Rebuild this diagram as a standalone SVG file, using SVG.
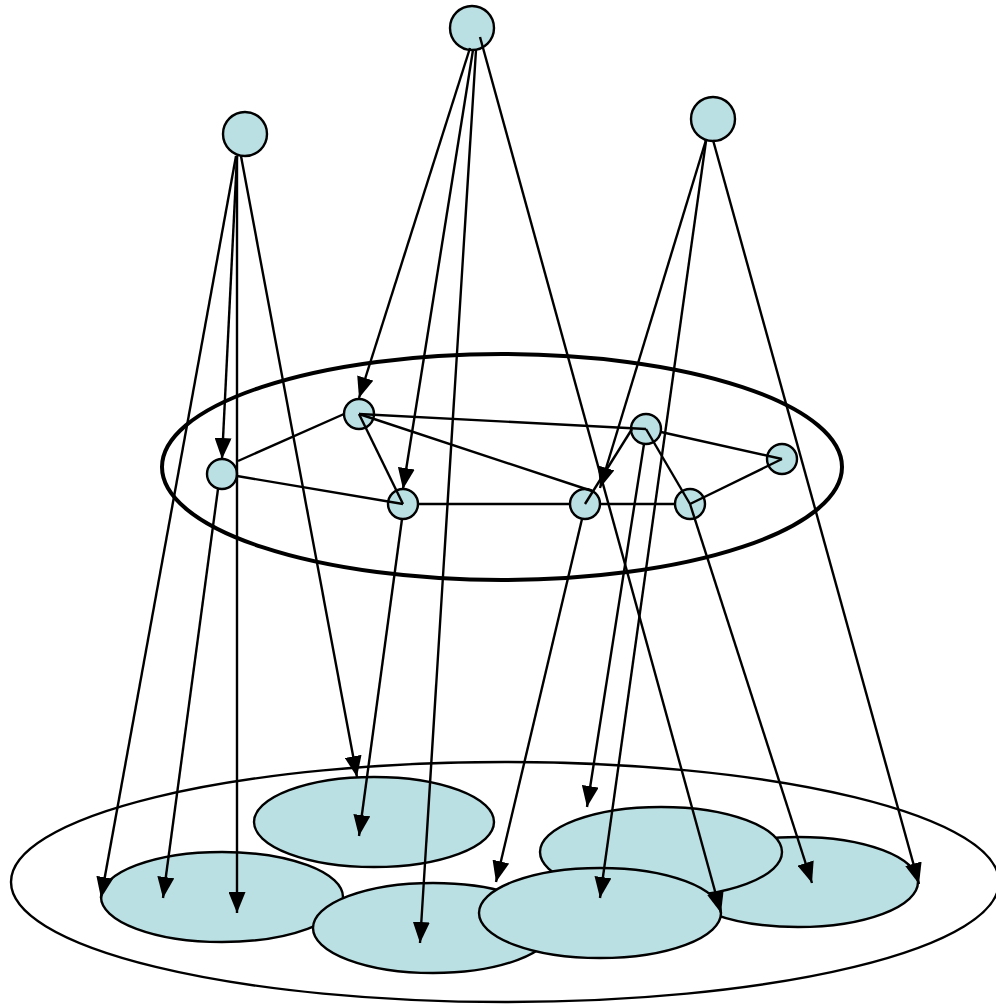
<svg xmlns="http://www.w3.org/2000/svg" width="996" height="1004" viewBox="0 0 996 1004">
<defs>
<style>
.n{fill:#bbe0e3;stroke:#000;stroke-width:2.4}
.e{stroke:#000;stroke-width:2.4;fill:none}
.a{stroke:#000;stroke-width:2.4;fill:none;marker-end:url(#ah)}
</style>
<marker id="ah" markerUnits="userSpaceOnUse" viewBox="0 0 21 17" markerWidth="21" markerHeight="17" refX="21" refY="8.5" orient="auto">
<path d="M0,0 L21,8.5 L0,17 z" fill="#000"/>
</marker>
</defs>
<rect width="996" height="1004" fill="#fff"/>
<g id="base">
<ellipse cx="505" cy="882" rx="494" ry="120" fill="#fff" stroke="#000" stroke-width="2.4"/>
</g>
<g id="E1"><ellipse class="n" cx="222" cy="897" rx="121" ry="45"/></g>
<g id="E2"><ellipse class="n" cx="374" cy="822" rx="120" ry="45"/></g>
<g id="E3"><ellipse class="n" cx="433" cy="928" rx="120" ry="45"/></g>
<g id="E5"><ellipse class="n" cx="798" cy="882" rx="120" ry="45"/></g>
<g id="E4"><ellipse class="n" cx="661" cy="852" rx="121" ry="45"/></g>
<g id="E6"><ellipse class="n" cx="600" cy="913" rx="121" ry="45"/></g>
<g id="ring"><ellipse cx="502" cy="467" rx="340" ry="113" fill="none" stroke="#000" stroke-width="4"/></g>
<g id="A"><circle class="n" cx="472" cy="28" r="22"/></g>
<g id="B"><circle class="n" cx="245" cy="134" r="22"/></g>
<g id="C"><circle class="n" cx="713" cy="119" r="22"/></g>
<g id="n359"><circle class="n" cx="359" cy="414" r="15"/></g>
<g id="n222"><circle class="n" cx="222" cy="474" r="15"/></g>
<g id="n403"><circle class="n" cx="403" cy="504" r="15"/></g>
<g id="n585"><circle class="n" cx="585" cy="504" r="15"/></g>
<g id="n646"><circle class="n" cx="646" cy="429" r="15"/></g>
<g id="n690"><circle class="n" cx="690" cy="504" r="15"/></g>
<g id="n782"><circle class="n" cx="782" cy="459" r="15"/></g>
<g id="connectors">
<line class="e" x1="238" y1="461" x2="344" y2="414"/>
<line class="e" x1="237" y1="476" x2="403" y2="504"/>
<line class="e" x1="359" y1="414" x2="403" y2="504"/>
<line class="e" x1="359" y1="414" x2="646" y2="429"/>
<line class="e" x1="359" y1="414" x2="592" y2="491"/>
<line class="e" x1="418" y1="504" x2="570" y2="504"/>
<line class="e" x1="600" y1="504" x2="675" y2="504"/>
<line class="e" x1="585" y1="504" x2="632" y2="429"/>
<line class="e" x1="646" y1="429" x2="690" y2="504"/>
<line class="e" x1="661" y1="432" x2="782" y2="459"/>
<line class="e" x1="782" y1="459" x2="690" y2="504"/>
<line class="a" x1="470" y1="48" x2="359" y2="398"/>
<line class="a" x1="473" y1="50" x2="403" y2="489"/>
<line class="a" x1="476" y1="50" x2="420" y2="943"/>
<line class="a" x1="480" y1="37" x2="721" y2="913"/>
<line class="a" x1="237" y1="156" x2="222" y2="459"/>
<line class="a" x1="237" y1="156" x2="237" y2="913"/>
<line class="a" x1="236" y1="156" x2="101" y2="898"/>
<line class="a" x1="241" y1="156" x2="357" y2="777"/>
<line class="a" x1="218" y1="489" x2="163" y2="898"/>
<line class="a" x1="402" y1="519" x2="359" y2="836"/>
<line class="a" x1="582" y1="519" x2="496" y2="882"/>
<line class="a" x1="706" y1="140" x2="600" y2="488"/>
<line class="a" x1="706" y1="141" x2="600" y2="898"/>
<line class="a" x1="713" y1="140" x2="919" y2="884"/>
<line class="a" x1="644" y1="444" x2="587" y2="807"/>
<line class="a" x1="690" y1="504" x2="812" y2="883"/>
</g>
</svg>
